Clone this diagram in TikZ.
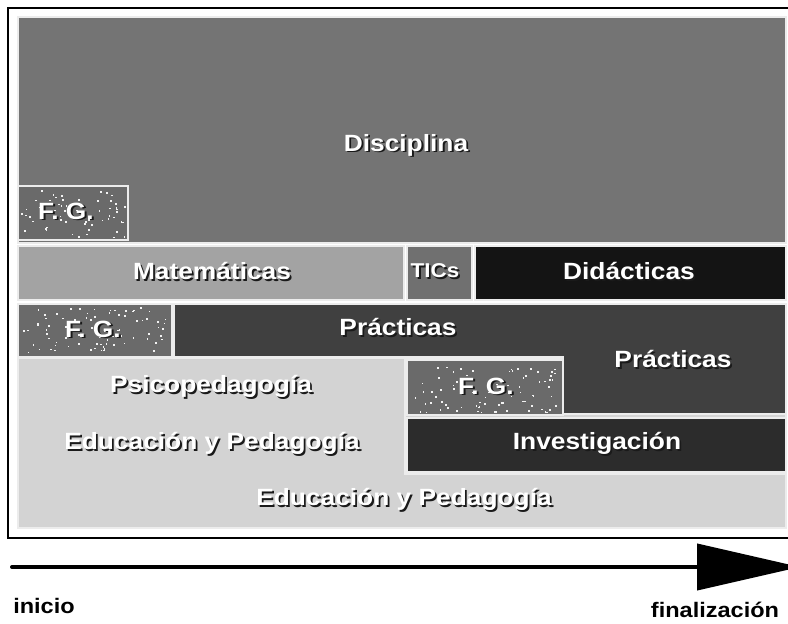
\documentclass[tikz,border=0pt]{standalone}
\usepackage{fontspec}
\setmainfont{Liberation Sans}[FakeStretch=1.12]
\usetikzlibrary{arrows.meta}

\definecolor{discgray}{HTML}{747474}
\definecolor{fggray}{HTML}{6A6A6A}
\definecolor{matgray}{HTML}{A3A3A3}
\definecolor{ticgray}{HTML}{707070}
\definecolor{didgray}{HTML}{141414}
\definecolor{pracgray}{HTML}{404040}
\definecolor{invgray}{HTML}{2C2C2C}
\definecolor{edugray}{HTML}{D3D3D3}
\definecolor{edgegray}{HTML}{ECECEC}
\definecolor{shadowgray}{HTML}{1A1A1A}
\definecolor{dotgray}{HTML}{F2F2F2}

% white text over a dark drop shadow, set as one box
\newcommand\shadowed[1]{%
  \makebox[0pt][l]{\hspace{1.8pt}\raisebox{-1.8pt}{\color{shadowgray}#1}}#1}

% label node with a drop-shadowed text
\newcommand\shlabel[5][]{%
  \node[lbl,#1] (#2) at (#3,#4) {\shadowed{#5}};}

% scattered light specks inside a rectangle
\newcommand\speckle[5]{%
  \foreach \k in {1,...,#5}{%
    \pgfmathsetmacro\px{#1+3+rnd*(#3-#1-6)}%
    \pgfmathsetmacro\py{#2+3+rnd*(#4-#2-6)}%
    \fill[dotgray] (\px,\py) rectangle ++(1.6,1.6);
  }}

\begin{document}
\begin{tikzpicture}[x=1pt,y=-1pt,
  panel/.style={fill=#1, draw=edgegray, line width=1.2pt},
  lbl/.style={text=white, inner sep=0pt,
    font=\fontsize{23.5}{25}\selectfont\bfseries},
  small/.style={font=\fontsize{20}{22}\selectfont\bfseries},
  axislabel/.style={text=black, inner sep=0pt,
    font=\fontsize{21}{23}\selectfont\bfseries}]
\useasboundingbox (0,0) rectangle (788,624);
\pgfmathsetseed{4217}
\begin{scope}
  \clip (0,0) rectangle (788,624);
  \fill[white] (0,0) rectangle (788,624);
  % outer frame
  \draw[line width=2.6pt] (8,8) rectangle (820,538);

  % top band
  \draw[panel=discgray] (18,17) rectangle (786,243);
  \draw[panel=fggray] (18,186) rectangle (128,240);
  \speckle{18}{186}{128}{240}{62}

  % second band
  \draw[panel=matgray] (18,246) rectangle (404,300);
  \draw[panel=ticgray] (407,246) rectangle (472,300);
  \draw[panel=didgray] (475,246) rectangle (786,300);

  % lower area
  \draw[panel=edugray] (18,358) rectangle (786,528);
  \draw[panel=fggray] (18,304) rectangle (172,357);
  \speckle{18}{304}{172}{357}{82}
  \draw[panel=pracgray] (174,304) -- (786,304) -- (786,414) -- (563,414)
    -- (563,357) -- (174,357) -- cycle;
  \draw[edgegray, line width=2.4pt] (405,359) -- (405,474) -- (786,474);
  \draw[panel=fggray] (407,360) rectangle (563,415);
  \speckle{407}{360}{563}{415}{82}
  \draw[panel=invgray] (407,418) rectangle (786,472);
\end{scope}

% labels
\shlabel{disc}{406}{146}{Disciplina}
\shlabel{fgA}{66}{212}{F. G.}
\shlabel{mat}{212}{272}{Matemáticas}
\shlabel[small]{tic}{435}{272}{TICs}
\shlabel{did}{629}{272}{Didácticas}
\shlabel{fgB}{93}{330}{F. G.}
\shlabel{pracA}{398}{328}{Prácticas}
\shlabel{pracB}{673}{360}{Prácticas}
\shlabel{psico}{211}{387}{Psicopedagogía}
\shlabel{eduA}{212}{444}{Educación y Pedagogía}
\shlabel{fgC}{486}{387}{F. G.}
\shlabel{inv}{597}{444}{Investigación}
\shlabel{eduB}{404}{500}{Educación y Pedagogía}

% time axis
\begin{scope}
  \clip (0,0) rectangle (788,624);
  \coordinate (tstart) at (12,567);
  \coordinate (tend) at (800,567);
  \draw[line width=4pt, line cap=round,
    -{Triangle[length=103pt,width=46pt]}] (tstart) -- (tend);
\end{scope}
\node[axislabel] (ini) at (44,606) {inicio};
\node[axislabel] (fin) at (715,610) {finalización};
\end{tikzpicture}
\end{document}
